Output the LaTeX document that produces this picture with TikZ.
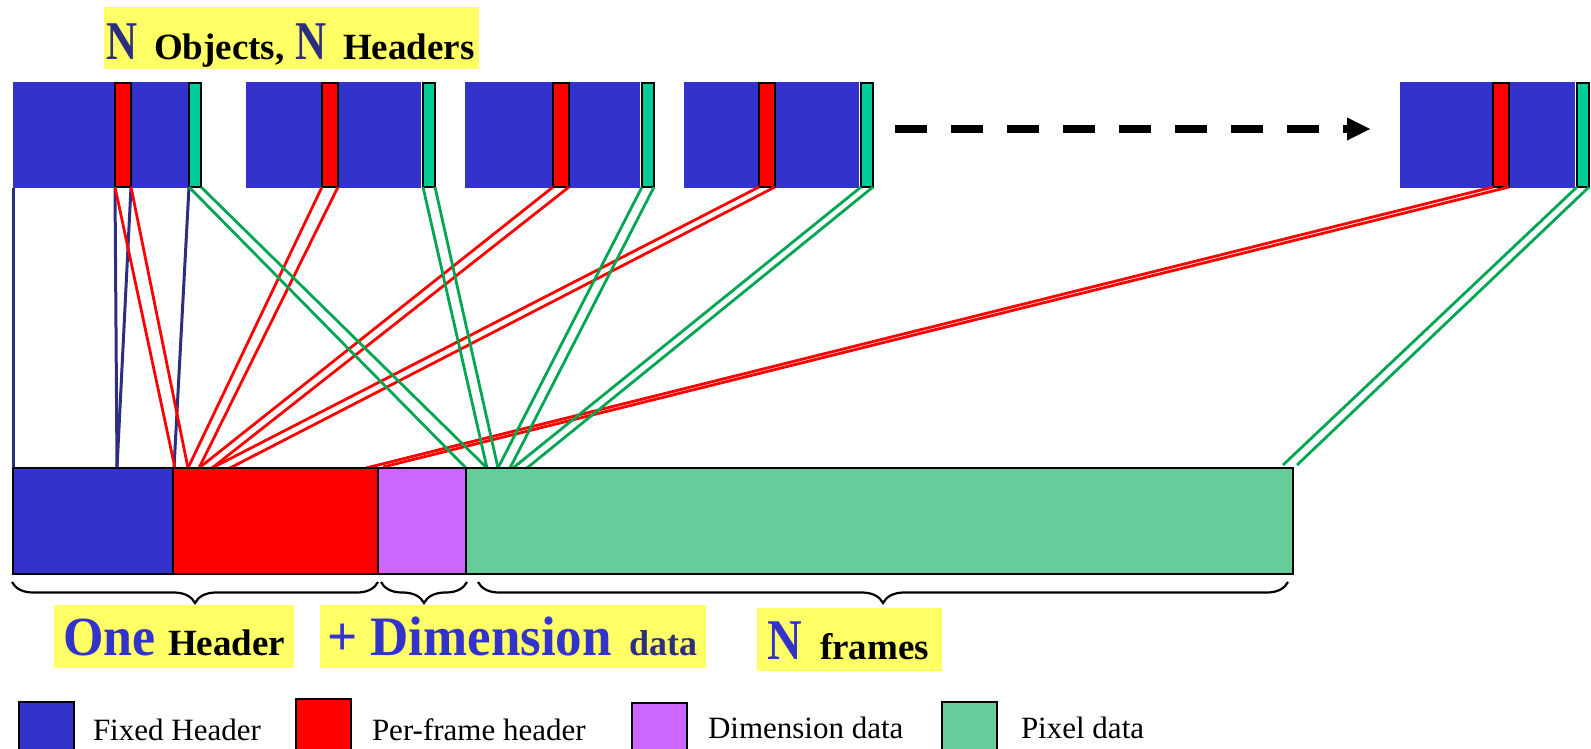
\documentclass[tikz,border=0pt]{standalone}
\usepackage{graphicx}
\usepackage{fontspec}
\setmainfont{Liberation Serif}
\usetikzlibrary{decorations.pathreplacing,calc}

\definecolor{hdrblue}{HTML}{3333CC}
\definecolor{pfred}{HTML}{FF0000}
\definecolor{pixgreen}{HTML}{00CC99}
\definecolor{barpix}{HTML}{66CC99}
\definecolor{dimpurple}{HTML}{CC66FF}
\definecolor{navy}{HTML}{2E2E80}
\definecolor{lnkgreen}{HTML}{00A651}
\definecolor{hilite}{HTML}{FFFF66}

\newcommand{\fs}[1]{\fontsize{#1}{#1}\selectfont}

\begin{document}
\begin{tikzpicture}[x=1pt,y=-1pt,
  box/.style={inner sep=0pt, outer sep=0pt, anchor=north west},
  objbox/.style={box, fill=hdrblue, minimum width=175pt, minimum height=106pt},
  stripe/.style={box, draw=black, line width=2pt, minimum height=104pt},
  seg/.style={box, draw=black, line width=2pt, minimum height=106pt},
  legsq/.style={box, draw=black, line width=2pt, minimum width=55pt, minimum height=60pt},
  ybox/.style={box, fill=hilite},
  txt/.style={inner sep=0pt, outer sep=0pt, anchor=base west},
  navyln/.style={draw=navy, line width=3pt},
  redln/.style={draw=pfred, line width=2.8pt},
  grnln/.style={draw=lnkgreen, line width=2.8pt},
  curly/.style={draw=black, line width=2.2pt, decorate,
    decoration={brace, mirror, amplitude=21pt}}
]
\clip (0,0) rectangle (1591,748);

% ---------- N objects, each with header (blue), per-frame part (red), pixels (green)
\foreach \i/\bx/\rx/\gx in {1/13/115/189, 2/246/322/423, 3/465/553/642, 4/684/759/861, 5/1400/1493/1577}{
  \node[objbox] (b\i) at (\bx,82) {};
  \node[stripe, fill=pfred, minimum width=16pt] (r\i) at (\rx,83) {};
  \node[stripe, fill=pixgreen, minimum width=12pt] (g\i) at (\gx,83) {};
}

% ---------- single merged object
\node[seg, fill=hdrblue,   minimum width=160pt] (fh) at (13,468) {};
\node[seg, fill=pfred,     minimum width=205pt] (pf) at (173,468) {};
\node[seg, fill=dimpurple, minimum width=88pt]  (dd) at (378,468) {};
\node[seg, fill=barpix,    minimum width=827pt] (px) at (466,468) {};

% landing points on the merged object
\coordinate (f0) at (13,468);  \coordinate (f1) at (117,468); \coordinate (f2) at (174,468);
\coordinate (p1) at (175,468); \coordinate (p2) at (188,468); \coordinate (p3) at (199,468);
\coordinate (p4) at (212,468); \coordinate (p5) at (230,468);
\coordinate (p8) at (366,468); \coordinate (p9) at (383,467);
\coordinate (x1) at (466,468); \coordinate (x2) at (487,468); \coordinate (x3) at (498,468);
\coordinate (x4) at (510,468); \coordinate (x5) at (513,468); \coordinate (x6) at (527,468);
\coordinate (x8) at (1283,465); \coordinate (x9) at (1297,465);

% ---------- links
\draw[navyln] (b1.south west) -- (f0);
\draw[navyln] (r1.south west) -- (f1);
\draw[navyln] (r1.south east) -- (f1);
\draw[navyln] (g1.south west) -- (f2);

\draw[redln] (r1.south west) -- (p1);  \draw[redln] (r1.south east) -- (p2);
\draw[redln] (r2.south west) -- (p2);  \draw[redln] (r2.south east) -- (p3);
\draw[redln] (r3.south west) -- (p3);  \draw[redln] (r3.south east) -- (p4);
\draw[redln] (r4.south west) -- (p4);  \draw[redln] (r4.south east) -- (p5);
\draw[redln] (r5.south west) -- (p8);  \draw[redln] (r5.south east) -- (p9);

\draw[grnln] (g1.south west) -- (x1);  \draw[grnln] (g1.south east) -- (x2);
\draw[grnln] (g2.south west) -- (x2);  \draw[grnln] (g2.south east) -- (x3);
\draw[grnln] (g3.south west) -- (x3);  \draw[grnln] (g3.south east) -- (x4);
\draw[grnln] (g4.south west) -- (x5);  \draw[grnln] (g4.south east) -- (x6);
\draw[grnln] (g5.south west) -- (x8);  \draw[grnln] (g5.south east) -- (x9);

% redraw the merged object's top edge over the link ends
\foreach \n in {fh,pf,dd,px}{ \draw[line width=2pt] (\n.north west) -- (\n.north east); }

% ---------- "more objects" arrow
\coordinate (ds) at (895,129);
\coordinate (de) at (1348,129);
\coordinate (dt) at (1370,129);
\draw[line width=8pt, dash pattern=on 32pt off 24pt] (ds) -- (de);
\fill ($(dt)+(-23,-11.5)$) -- (dt) -- ($(dt)+(-23,11.5)$) -- cycle;

% ---------- title
\node[ybox, minimum width=375pt, minimum height=62pt] (ttl) at (104,7) {};
\node[txt, text=navy] (tn1) at (106,59) {\fs{43}\bfseries\scalebox{1}[1.27]{N}};
\node[txt] (tob) at (154,59) {\fs{37}\bfseries Objects,};
\node[txt, text=navy] (tn2) at (295,59) {\fs{43}\bfseries\scalebox{1}[1.27]{N}};
\node[txt] (thd) at (343,59) {\fs{37}\bfseries Headers};

% ---------- braces
\coordinate (c1a) at (12,582);  \coordinate (c1b) at (378,582);
\coordinate (c2a) at (381,582); \coordinate (c2b) at (467,582);
\coordinate (c3a) at (478,582); \coordinate (c3b) at (1288,582);
\draw[curly] (c1a) -- (c1b);
\draw[curly] (c2a) -- (c2b);
\draw[curly] (c3a) -- (c3b);

% ---------- brace labels
\node[ybox, minimum width=240pt, minimum height=63pt] (l1) at (54,605) {};
\node[ybox, minimum width=386pt, minimum height=63pt] (l2) at (320,605) {};
\node[ybox, minimum width=185pt, minimum height=63pt] (l3) at (757,608) {};
\node[txt, text=hdrblue] (one) at (63,655) {\fs{52}\bfseries\scalebox{1}[1.06]{One}};
\node[txt] (ohd) at (168,655) {\fs{37}\bfseries Header};
\node[txt, text=hdrblue] (dim) at (327,655) {\fs{53}\bfseries\scalebox{1}[1.05]{+ Dimension}};
\node[txt, text=navy] (ddt) at (629,655) {\fs{36}\bfseries data};
\node[txt, text=hdrblue] (nfr) at (767,659) {\fs{48}\bfseries\scalebox{1}[1.2]{N}};
\node[txt] (frm) at (820,659) {\fs{37}\bfseries frames};

% ---------- legend
\node[legsq, fill=hdrblue]   (k1) at (19,702) {};
\node[legsq, fill=pfred]     (k2) at (296,699) {};
\node[legsq, fill=dimpurple] (k3) at (632,703) {};
\node[legsq, fill=barpix]    (k4) at (942,702) {};
\node[txt] (t1) at (93,740)   {\fs{31}Fixed Header};
\node[txt] (t2) at (372,740)  {\fs{31}Per-frame header};
\node[txt] (t3) at (708,738)  {\fs{31}Dimension data};
\node[txt] (t4) at (1021,738) {\fs{31}Pixel data};
\end{tikzpicture}
\end{document}
